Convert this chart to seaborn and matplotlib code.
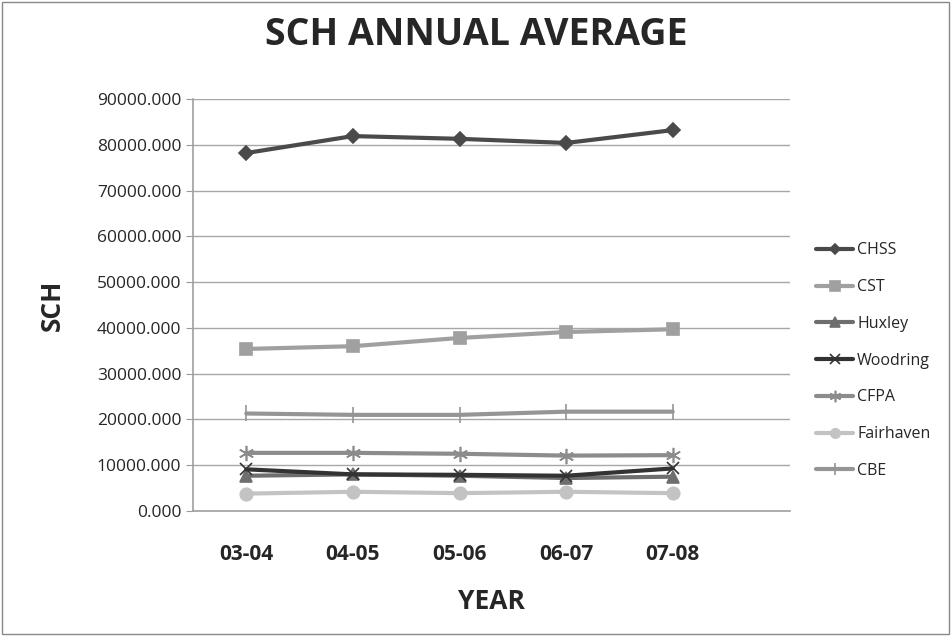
import numpy as np
import pandas as pd
import matplotlib
matplotlib.use("Agg")
import matplotlib.pyplot as plt
import seaborn as sns
from matplotlib.ticker import FuncFormatter

years = ['03-04', '04-05', '05-06', '06-07', '07-08']
chss = [78200, 81900, 81300, 80400, 83200]
cst = [35400, 36000, 37800, 39100, 39700]
huxley = [7700, 8000, 7700, 7200, 7500]
woodring = [9100, 8000, 7900, 7700, 9300]
cfpa = [12700, 12700, 12500, 12100, 12200]
fairhaven = [3800, 4200, 3900, 4200, 3900]
cbe = [21300, 21000, 21000, 21700, 21700]

series = [
    ('CHSS', chss, '#4a4a4a', 'D', 7),
    ('CST', cst, '#a0a0a0', 's', 9),
    ('Huxley', huxley, '#6e6e6e', '^', 9),
    ('Woodring', woodring, '#333333', 'x', 9),
    ('CFPA', cfpa, '#8c8c8c', (6, 2, 0), 11),
    ('Fairhaven', fairhaven, '#c3c3c3', 'o', 9),
    ('CBE', cbe, '#959595', '|', 12),
]

sns.set_style("white")
plt.rcParams['font.family'] = ['Open Sans', 'DejaVu Sans']

fig = plt.figure(figsize=(9.53, 6.36), dpi=100)
ax = fig.add_axes([193 / 953, 1 - 511 / 636, (790 - 193) / 953, (511 - 99) / 636])

for name, vals, col, mk, ms in series:
    df = pd.DataFrame({'x': np.arange(len(years)), 'y': vals})
    sns.lineplot(data=df, x='x', y='y', ax=ax, color=col, marker=mk,
                 markersize=ms, linewidth=3, label=name,
                 markeredgecolor=col, markeredgewidth=1.2)

ax.set_xlim(-0.5, 5.1)
ax.set_ylim(0, 90000)
ax.set_yticks(np.arange(0, 90001, 10000))
ax.yaxis.set_major_formatter(FuncFormatter(lambda v, p: f"{v:.3f}"))
ax.set_xticks(np.arange(len(years)))
ax.set_xticklabels(years, fontsize=15, fontweight='bold')
ax.tick_params(axis='y', labelsize=12.5, length=5, color='#999999', direction='out', left=True)
ax.tick_params(axis='x', length=0, pad=24)
ax.grid(axis='y', color='#a8a8a8', linewidth=1)
ax.set_axisbelow(True)
for s in ['top', 'right']:
    ax.spines[s].set_visible(False)
for s in ['left', 'bottom']:
    ax.spines[s].set_color('#a0a0a0')
    ax.spines[s].set_linewidth(1.2)

ax.set_xlabel('YEAR', fontsize=19, fontweight='bold', labelpad=16)
ax.set_ylabel('SCH', fontsize=19, fontweight='bold', labelpad=22)
fig.suptitle('SCH ANNUAL AVERAGE', fontsize=27, fontweight='bold', y=0.975)

leg = ax.legend(loc='center left', bbox_to_anchor=(1.02, 0.365), frameon=False,
                fontsize=11.5, handlelength=2.3, handletextpad=0.25,
                labelspacing=1.3, markerscale=0.75)

fig.add_artist(plt.Rectangle((0.002, 0.003), 0.994, 0.994, transform=fig.transFigure,
                             fill=False, edgecolor='#888888', linewidth=1))

fig.savefig('out.png', dpi=100)
